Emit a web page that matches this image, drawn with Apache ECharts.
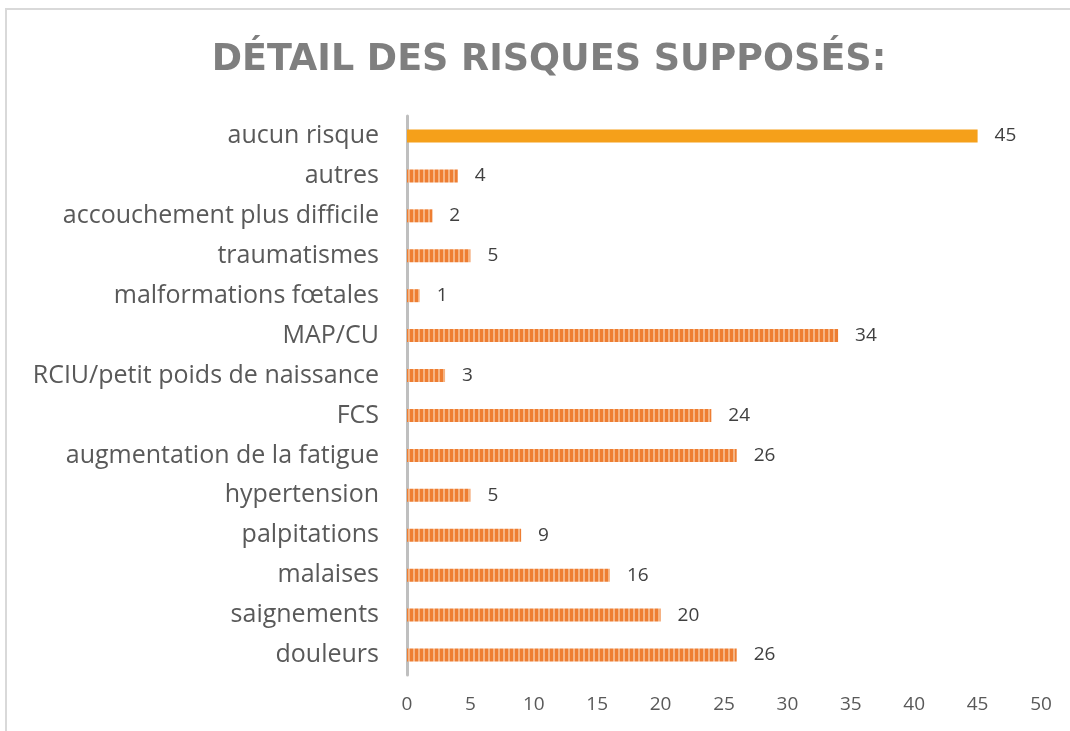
<!DOCTYPE html>
<html>
<head>
<meta charset="utf-8">
<script src="https://cdn.jsdelivr.net/npm/echarts@6/dist/echarts.min.js"></script>
<style>
  html, body { margin: 0; padding: 0; background: #fff; }
  #chart { width: 1070px; height: 731px; }
</style>
</head>
<body>
<div id="chart"></div>
<script>
// risques, du haut vers le bas
let categories = ["aucun risque", "autres", "accouchement plus difficile", "traumatismes", "malformations fœtales", "MAP/CU", "RCIU/petit poids de naissance", "FCS", "augmentation de la fatigue", "hypertension", "palpitations", "malaises", "saignements", "douleurs"];
let values = [45, 4, 2, 5, 1, 34, 3, 24, 26, 5, 9, 16, 20, 26];
let ticks = [0, 5, 10, 15, 20, 25, 30, 35, 40, 45, 50];

// motif rayé vertical pour les barres
let stripe = document.createElement("canvas");
stripe.width = 5;
stripe.height = 12;
let ctx = stripe.getContext("2d");
ctx.fillStyle = "#F6B483";
ctx.fillRect(0, 0, 5, 12);
ctx.fillStyle = "#EE7E32";
ctx.fillRect(0, 0, 3, 12);

let myChart = echarts.init(document.getElementById("chart"));
myChart.setOption({
    animation: false,
    title: {
        text: "DÉTAIL DES RISQUES SUPPOSÉS:",
        left: 544,
        textAlign: "center",
        top: 37,
        textStyle: {
            fontFamily: "DejaVu Sans",
            fontWeight: "bold",
            fontSize: 36.5,
            color: "#7F7F7F"
        }
    },
    graphic: [{
        type: "rect",
        shape: { x: 6, y: 9, width: 1100, height: 800 },
        style: { fill: "none", stroke: "#D9D9D9", lineWidth: 2 },
        silent: true
    }],
    grid: { left: 407, right: 29, top: 116, bottom: 56 },
    xAxis: {
        type: "value",
        min: ticks[0],
        max: ticks[ticks.length - 1],
        interval: 5,
        splitLine: { show: false },
        axisLine: { show: false },
        axisTick: { show: false },
        axisLabel: {
            margin: 20,
            fontFamily: "Open Sans",
            fontSize: 19,
            color: "#595959"
        }
    },
    yAxis: {
        type: "category",
        data: categories,
        inverse: true,
        axisLine: { show: true, lineStyle: { color: "#BFBFBF", width: 3 } },
        axisTick: { show: false },
        axisLabel: {
            margin: 28,
            fontFamily: "Open Sans",
            fontSize: 25,
            color: "#595959"
        }
    },
    series: [{
        type: "bar",
        barWidth: 13,
        data: values.map((v, i) => ({
            value: v,
            itemStyle: i === 0 ? { color: "#F5A01A" } : { color: { image: stripe, repeat: "repeat" } }
        })),
        label: {
            show: true,
            position: "right",
            distance: 17,
            fontFamily: "Open Sans",
            fontSize: 19,
            color: "#404040"
        }
    }]
});
</script>
</body>
</html>
